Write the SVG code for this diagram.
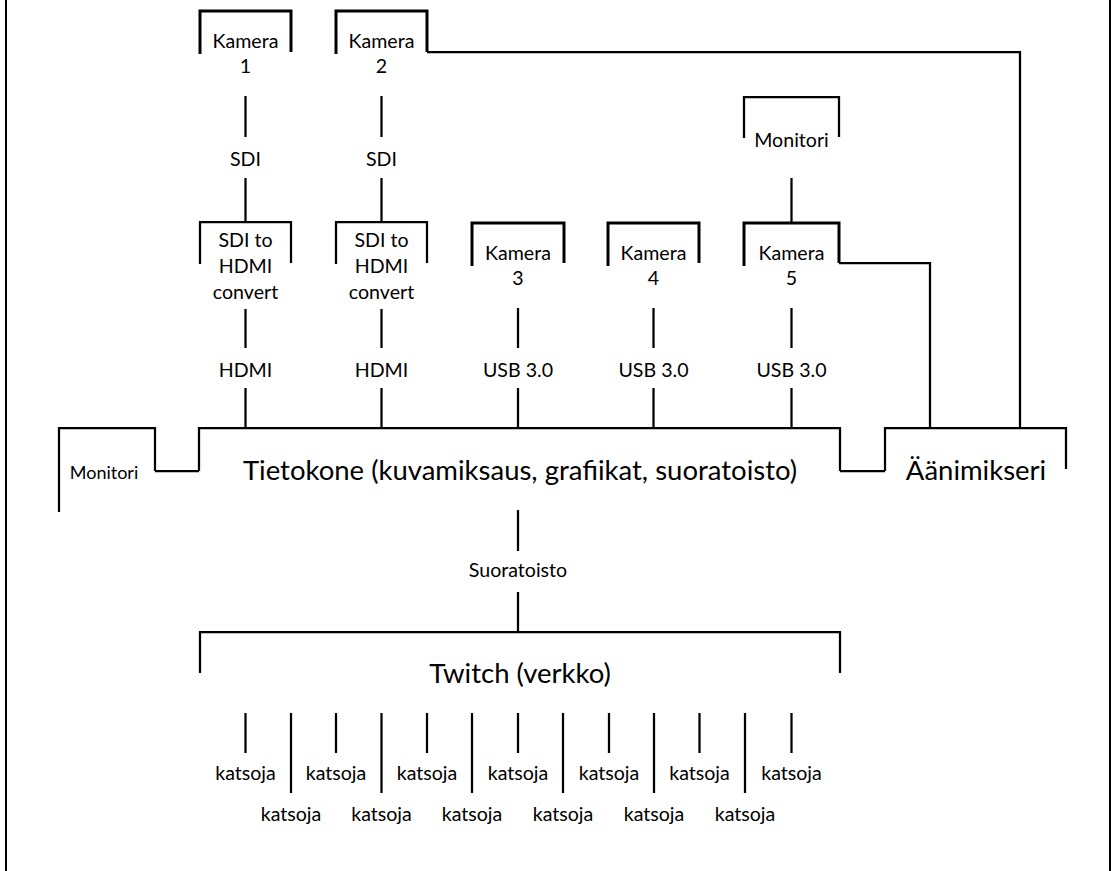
<svg xmlns="http://www.w3.org/2000/svg" width="1112" height="871" viewBox="0 0 1112 871">
<style>
  .bx { fill: none; stroke: #000; stroke-width: 2.25; stroke-linejoin: miter; stroke-linecap: butt; }
  .cam { fill: none; stroke: #000; stroke-width: 3; stroke-linejoin: miter; }
  .ln { fill: none; stroke: #000; stroke-width: 2.25; }
  .t { font-family: Lato, "Liberation Sans", sans-serif; font-size: 19.6px; fill: #000; text-anchor: middle; }
  .big { font-size: 27.5px; }
  .sm { font-size: 18px; }
</style>
<rect x="0" y="0" width="1112" height="871" fill="#fff"/>
<g id="frame">
  <line x1="6" y1="0" x2="6" y2="871" stroke="#000" stroke-width="2"/>
  <line x1="1110" y1="0" x2="1110" y2="871" stroke="#000" stroke-width="2"/>
</g>
<g id="kamera1">
  <path class="cam" d="M200,54 V11 H291 V52"/>
  <text class="t" x="245.5" y="48">Kamera</text>
  <text class="t" x="245.5" y="73">1</text>
</g>
<g id="kamera2">
  <path class="cam" d="M336,54 V11 H427 V52"/>
  <text class="t" x="381.5" y="48">Kamera</text>
  <text class="t" x="381.5" y="73">2</text>
</g>
<g id="sdi1">
  <text class="t" x="245.5" y="166">SDI</text>
</g>
<g id="sdi2">
  <text class="t" x="381.5" y="166">SDI</text>
</g>
<g id="conv1">
  <path class="bx" d="M200,264 V222 H291 V263"/>
  <text class="t" x="245.5" y="247">SDI to</text>
  <text class="t" x="245.5" y="273">HDMI</text>
  <text class="t" x="245.5" y="299">convert</text>
</g>
<g id="conv2">
  <path class="bx" d="M336,264 V222 H427 V263"/>
  <text class="t" x="381.5" y="247">SDI to</text>
  <text class="t" x="381.5" y="273">HDMI</text>
  <text class="t" x="381.5" y="299">convert</text>
</g>
<g id="monitori-top">
  <path class="bx" d="M744,138 V97 H839 V137"/>
  <text class="t" x="791.5" y="147">Monitori</text>
</g>
<g id="kamera3">
  <path class="cam" d="M472,266 V223 H564 V263"/>
  <text class="t" x="518" y="260">Kamera</text>
  <text class="t" x="518" y="285">3</text>
</g>
<g id="kamera4">
  <path class="cam" d="M608,266 V223 H699 V263"/>
  <text class="t" x="653.5" y="260">Kamera</text>
  <text class="t" x="653.5" y="285">4</text>
</g>
<g id="kamera5">
  <path class="cam" d="M744,266 V223 H839 V263"/>
  <text class="t" x="791.5" y="260">Kamera</text>
  <text class="t" x="791.5" y="285">5</text>
</g>
<g id="hdmi1"><text class="t" x="245.5" y="377">HDMI</text></g>
<g id="hdmi2"><text class="t" x="381.5" y="377">HDMI</text></g>
<g id="usb3"><text class="t" x="518" y="377">USB 3.0</text></g>
<g id="usb4"><text class="t" x="653.5" y="377">USB 3.0</text></g>
<g id="usb5"><text class="t" x="791.5" y="377">USB 3.0</text></g>
<g id="monitori-left">
  <path class="bx" d="M59,512 V428 H155 V471"/>
  <text class="t sm" x="104" y="479">Monitori</text>
</g>
<g id="tietokone">
  <path class="bx" d="M199,471 V428 H840 V471"/>
  <text class="t big" x="520" y="480">Tietokone (kuvamiksaus, grafiikat, suoratoisto)</text>
</g>
<g id="aanimikseri">
  <path class="bx" d="M885,471 V428 H1066 V469"/>
  <text class="t big" x="976" y="480">Äänimikseri</text>
</g>
<g id="suoratoisto"><text class="t" x="518" y="577">Suoratoisto</text></g>
<g id="twitch">
  <path class="bx" d="M200,673 V632 H840 V673"/>
  <text class="t big" x="520" y="683">Twitch (verkko)</text>
</g>
<g id="katsojat">
  <text class="t" x="245.5" y="780">katsoja</text>
  <text class="t" x="336" y="780">katsoja</text>
  <text class="t" x="427" y="780">katsoja</text>
  <text class="t" x="518" y="780">katsoja</text>
  <text class="t" x="609" y="780">katsoja</text>
  <text class="t" x="699.5" y="780">katsoja</text>
  <text class="t" x="791.5" y="780">katsoja</text>
  <text class="t" x="291" y="821">katsoja</text>
  <text class="t" x="381.5" y="821">katsoja</text>
  <text class="t" x="472" y="821">katsoja</text>
  <text class="t" x="563" y="821">katsoja</text>
  <text class="t" x="654" y="821">katsoja</text>
  <text class="t" x="745" y="821">katsoja</text>
</g>
<g id="connectors">
  <path class="ln" d="M245.5,96 V137 M245.5,178 V222"/>
  <path class="ln" d="M381.5,96 V137 M381.5,178 V222"/>
  <path class="ln" d="M245.5,309 V348 M245.5,388 V428"/>
  <path class="ln" d="M381.5,309 V348 M381.5,388 V428"/>
  <path class="ln" d="M518,308 V348 M518,388 V428"/>
  <path class="ln" d="M653.5,308 V348 M653.5,388 V428"/>
  <path class="ln" d="M791.5,308 V348 M791.5,388 V428"/>
  <path class="ln" d="M791.5,178 V222"/>
  <path class="ln" d="M427,52 H1020 V428"/>
  <path class="ln" d="M839,263 H930 V428"/>
  <path class="ln" d="M155,471 H199"/>
  <path class="ln" d="M840,471 H885"/>
  <path class="ln" d="M518,510 V551 M518,592 V632"/>
  <path class="ln" d="M245.5,713 V753 M336,713 V753 M427,713 V753 M518,713 V753 M609,713 V753 M699.5,713 V753 M791.5,713 V753"/>
  <path class="ln" d="M291,713 V793 M381.5,713 V793 M472,713 V793 M563,713 V793 M654,713 V793 M745,713 V793"/>
</g>
</svg>
